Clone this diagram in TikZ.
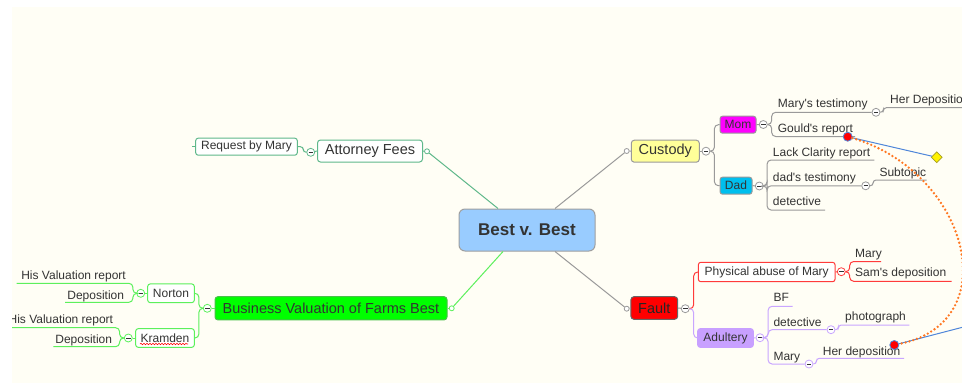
\documentclass[tikz,border=0pt]{standalone}
\usepackage{fontspec}
\setmainfont{Liberation Sans}
\usetikzlibrary{shapes.geometric,decorations.pathmorphing}
\definecolor{bgc}{HTML}{FFFEF5}
\definecolor{txt}{HTML}{333333}
\definecolor{gline}{HTML}{9A9A9A}
\definecolor{attc}{HTML}{5FB88A}
\definecolor{busc}{HTML}{5CF05C}
\definecolor{busfill}{HTML}{00FF00}
\definecolor{redc}{HTML}{FF3B3B}
\definecolor{purc}{HTML}{C9A6FF}
\definecolor{purfill}{HTML}{C8A0FF}
\definecolor{centfill}{HTML}{99CCFF}
\definecolor{custfill}{HTML}{FFFF99}
\definecolor{momfill}{HTML}{FF00FF}
\definecolor{dadfill}{HTML}{00BFEE}
\definecolor{bluel}{HTML}{4F86D9}
\definecolor{orangec}{HTML}{FF7722}
\begin{document}
\begin{tikzpicture}[x=1pt,y=-1pt,
  sm/.style={font=\fontsize{12}{14}\selectfont, text=txt, inner sep=0pt},
  leaf/.style={sm, anchor=base west},
  leafr/.style={sm, anchor=base east},
  l1/.style={font=\fontsize{14.5}{17}\selectfont, text=txt, inner sep=0pt, rounded corners=3, line width=1},
  l2/.style={sm, rounded corners=2.5, line width=1},
  btn/.style={circle, draw=#1, fill=white, minimum size=8, inner sep=0pt, line width=0.8,
    path picture={\draw[txt, line width=0.9] ([xshift=-2.2]path picture bounding box.center) -- ([xshift=2.2]path picture bounding box.center);}},
  attach/.style={circle, draw=#1, fill=white, minimum size=5, inner sep=0pt, line width=0.8},
  lw/.style={line width=1},
  rdot/.style={circle, fill=red, draw=bluel, minimum size=9, inner sep=0pt, line width=0.8}
]
\fill[white] (0,0) rectangle (962,386);
\fill[bgc] (12,7) rectangle (962,383);
\useasboundingbox (0,0) rectangle (962,386);

% central
\node[draw=gray!75, fill=centfill, rounded corners=6, minimum width=136, minimum height=42,
  font=\bfseries\fontsize{17}{20}\selectfont, text=txt, line width=1] (cen) at (527,230) {Best v. Best};

% Attorney Fees
\node[l1, draw=attc, fill=white, minimum width=105, minimum height=22] (att) at (370,151) {Attorney Fees};
\node[attach=attc] (aA) at (427,151.3) {};
\node[btn=attc] (bA) at (310.7,152.3) {};
\node[l2, draw=attc, fill=white, minimum width=101.6, minimum height=17] (req) at (246.5,146.7) {Request by Mary};
\draw[attc, lw] ([xshift=-29]cen.north) -- (aA);
\draw[attc, lw] (aA) -- (att.east);
\draw[attc, lw] (att.west) -- (bA);
\draw[attc, lw, rounded corners=3] (bA.west) -- ++(-3,0) |- (req.east);
\draw[attc, lw] (req.west) -- ++(-3,0);

% Custody
\node[l1, draw=gline, fill=custfill, minimum width=68, minimum height=22] (cus) at (665.3,151.2) {Custody};
\node[attach=gline] (aC) at (626.7,151) {};
\node[btn=gline] (bC) at (706,151.2) {};
\draw[gline, lw] ([xshift=28]cen.north) -- (aC);
\draw[gline, lw] (aC) -- (cus.west);
\draw[gline, lw] (cus.east) -- (bC);
\node[l2, draw=gline, fill=momfill, minimum width=36, minimum height=17] (mom) at (738,124.7) {Mom};
\node[l2, draw=gline, fill=dadfill, minimum width=32, minimum height=17] (dad) at (736,185.7) {Dad};
\draw[gline, lw, rounded corners=4] (bC.east) -- ++(4,0) |- (mom.west);
\draw[gline, lw, rounded corners=4] (bC.east) -- ++(4,0) |- (dad.west);
\node[btn=gline] (bM) at (763.3,124.5) {};
\node[btn=gline] (bD) at (759.3,186) {};
\draw[gline, lw] (mom.east) -- (bM);
\draw[gline, lw] (dad.east) -- (bD);

% Mom children
\node[btn=gline] (bMT) at (876,112.3) {};
\node[leaf] (tMT) at (777.7,107.5) {Mary\textquotesingle s testimony};
\coordinate (eGR) at (855,136.5);
\node[leaf] (tGR) at (777.7,132.5) {Gould\textquotesingle s report};
\draw[gline, lw, rounded corners=4] (bM.east) -- ++(4,0) |- (bMT.west);
\draw[gline, lw, rounded corners=4] (bM.east) -- ++(4,0) |- (eGR);
\coordinate (eHD) at (975,107.7);
\node[leaf] (tHD) at (890,103.3) {Her Deposition};
\draw[gline, lw, rounded corners=3] (bMT.east) -- ++(3,0) |- (eHD);

% Dad children
\coordinate (eLC) at (874.3,160);
\node[leaf] (tLC) at (772.7,156.3) {Lack Clarity report};
\node[btn=gline] (bDT) at (865.7,185.8) {};
\node[leaf] (tDT) at (772.7,181.5) {dad\textquotesingle s testimony};
\coordinate (eDe) at (825,210);
\node[leaf] (tDe) at (772.7,205.8) {detective};
\draw[gline, lw, rounded corners=4] (bD.east) -- ++(3.4,0) |- (eLC);
\draw[gline, lw, rounded corners=4] (bD.east) -- ++(3.4,0) |- (bDT.west);
\draw[gline, lw, rounded corners=4] (bD.east) -- ++(3.4,0) |- (eDe);
\coordinate (eSub) at (926.7,180);
\node[leaf] (tSub) at (879.3,176.5) {Subtopic};
\draw[gline, lw, rounded corners=3] (bDT.east) -- ++(3,0) |- (eSub);

% Fault
\node[l1, draw=gray!80!black, fill=red, text=black!85, minimum width=46.7, minimum height=22.6] (fau) at (654.3,308) {Fault};
\node[attach=gline] (aF) at (626.7,308.7) {};
\node[btn=gline] (bF) at (685.3,308.7) {};
\draw[gline, lw] ([xshift=28]cen.south) -- (aF);
\draw[gline, lw] (aF) -- (fau.west);
\draw[gline, lw] (fau.east) -- (bF);
\node[l2, draw=redc, fill=white, minimum width=136.7, minimum height=19.4] (phy) at (766.7,272) {Physical abuse of Mary};
\node[l2, draw=purfill, fill=purfill, minimum width=55.6, minimum height=18.6] (adu) at (725.5,338) {Adultery};
\draw[redc, lw, rounded corners=4] (bF.east) -- ++(4,0) |- (phy.west);
\draw[purc, lw, rounded corners=4] (bF.east) -- ++(4,0) |- (adu.west);
\node[btn=redc] (bP) at (841.3,271.7) {};
\draw[redc, lw] (phy.east) -- (bP);
\coordinate (eMy) at (881,261.5);
\node[leaf] (tMy) at (855,257.7) {Mary};
\coordinate (eSam) at (951.7,281.3);
\node[leaf] (tSam) at (855,276.7) {Sam\textquotesingle s deposition};
\draw[redc, lw, rounded corners=4] (bP.east) -- ++(4,0) |- (eMy);
\draw[redc, lw, rounded corners=4] (bP.east) -- ++(4,0) |- (eSam);

% Adultery children
\node[btn=purc] (bAd) at (760,337.7) {};
\draw[purc, lw] (adu.east) -- (bAd);
\coordinate (eBF) at (792.7,306.3);
\node[leaf] (tBF) at (773.3,301.7) {BF};
\node[btn=purc] (bDt) at (831,329.7) {};
\node[leaf] (tDt) at (773.3,326.3) {detective};
\node[btn=purc] (bMa) at (809,364) {};
\node[leaf] (tMa) at (773.3,360.5) {Mary};
\draw[purc, lw, rounded corners=4] (bAd.east) -- ++(3.7,0) |- (eBF);
\draw[purc, lw, rounded corners=4] (bAd.east) -- ++(3.7,0) |- (bDt.west);
\draw[purc, lw, rounded corners=4] (bAd.east) -- ++(3.7,0) |- (bMa.west);
\coordinate (ePh) at (909.3,325);
\node[leaf] (tPh) at (845,320.7) {photograph};
\draw[purc, lw, rounded corners=3] (bDt.east) -- ++(3,0) |- (ePh);
\coordinate (eHd2) at (904,358.3);
\node[leaf] (tHd2) at (822.7,355) {Her deposition};
\draw[purc, lw, rounded corners=3] (bMa.east) -- ++(3,0) |- (eHd2);

% relationships
\node[rdot] (rd1) at (847.7,136.7) {};
\node[diamond, fill=yellow, draw=olive!80, minimum size=11, inner sep=0pt, line width=0.7] (dia) at (936.7,157.3) {};
\draw[bluel, lw] (rd1) -- (dia);
\node[rdot] (rd2) at (894.3,345) {};
\coordinate (eBl) at (975,324);
\draw[bluel, lw] (rd2) -- (eBl);
\draw[orangec, line width=2.6, dash pattern=on 0pt off 4pt, line cap=round]
  (rd1) .. controls (968,172) and (1008,322) .. (rd2);

% Business Valuation
\node[l1, draw=busc!80!black, fill=busfill, minimum width=232, minimum height=23.3] (bus) at (331,308.3) {Business Valuation of Farms Best};
\node[attach=busc] (aB) at (451.7,308.3) {};
\node[btn=busc] (bB) at (207.3,308.3) {};
\draw[busc, lw] ([xshift=-24]cen.south) -- (aB);
\draw[busc, lw] (aB) -- (bus.east);
\draw[busc, lw] (bus.west) -- (bB);
\node[l2, draw=busc, fill=white, minimum width=46.6, minimum height=18.7] (nor) at (171,293.3) {Norton};
\node[l2, draw=busc, fill=white, minimum width=58.6, minimum height=18.6] (kra) at (165,338) {Kramden};
\draw[busc, lw, rounded corners=4] (bB.west) -- ++(-4,0) |- (nor.east);
\draw[busc, lw, rounded corners=4] (bB.west) -- ++(-4,0) |- (kra.east);
\node[btn=busc] (bN) at (140.7,293.3) {};
\node[btn=busc] (bK) at (128.3,338) {};
\draw[busc, lw] (nor.west) -- (bN);
\draw[busc, lw] (kra.west) -- (bK);
\draw[red, line width=0.6, decorate, decoration={snake, amplitude=0.7, segment length=3}]
  ([xshift=-25,yshift=-6]kra.center) -- ([xshift=23,yshift=-6]kra.center);
\coordinate (eHV1) at (16.7,283.3);
\node[leafr] (tHV1) at (126,279.3) {His Valuation report};
\coordinate (eDp1) at (65,302.3);
\node[leafr] (tDp1) at (124.3,299.3) {Deposition};
\draw[busc, lw, rounded corners=4] (bN.west) -- ++(-3.4,0) |- (eHV1);
\draw[busc, lw, rounded corners=4] (bN.west) -- ++(-3.4,0) |- (eDp1);
\coordinate (eHV2) at (5,327.7);
\node[leafr] (tHV2) at (113.3,323.3) {His Valuation report};
\coordinate (eDp2) at (53.3,346.7);
\node[leafr] (tDp2) at (112.3,343.3) {Deposition};
\draw[busc, lw, rounded corners=4] (bK.west) -- ++(-4.3,0) |- (eHV2);
\draw[busc, lw, rounded corners=4] (bK.west) -- ++(-4.3,0) |- (eDp2);

% left white margin
\fill[white] (0,0) rectangle (12,386);
\end{tikzpicture}
\end{document}
